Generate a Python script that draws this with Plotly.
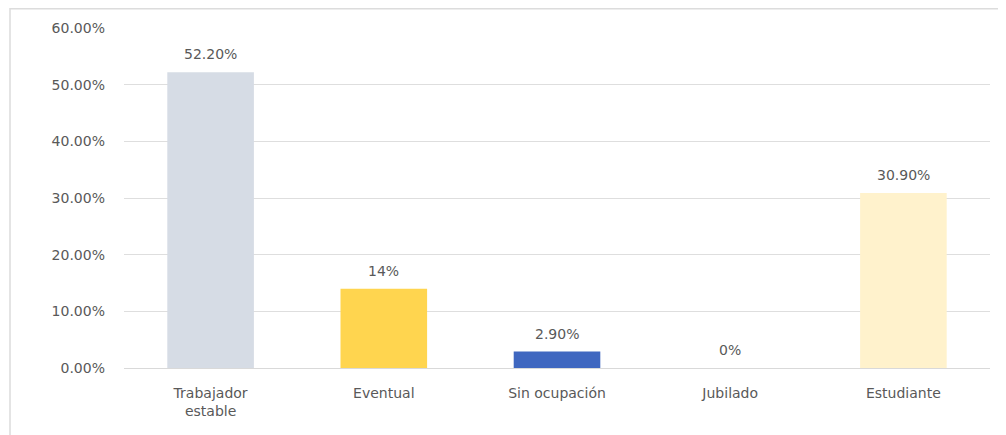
import plotly.graph_objects as go

categories = ["Trabajador<br>estable", "Eventual", "Sin ocupación", "Jubilado", "Estudiante"]
values = [0.522, 0.14, 0.029, 0.0, 0.309]
value_labels = ["52.20%", "14%", "2.90%", "0%", "30.90%"]
colors = ["#D6DCE5", "#FFD54F", "#3F67C0", "#DDDDDD", "#FFF2CC"]
y_ticks = [0, 0.1, 0.2, 0.3, 0.4, 0.5, 0.6]

FONT = "DejaVu Sans"
W, H = 998, 427
L, R, T, B = 116, 16, 20, 67
pw, ph = W - L - R, H - T - B

def px_x(x):
    return (x - L) / pw

def px_y(y):
    return (H - B - y) / ph

fig = go.Figure(go.Bar(
    x=categories, y=values,
    marker=dict(color=colors, line=dict(width=0)),
    cliponaxis=False,
))

for c, v, t in zip(categories, values, value_labels):
    fig.add_annotation(x=c, y=v, text=t, showarrow=False, yanchor="middle",
                       yshift=18, font=dict(color="#595959", size=14, family=FONT))

fig.update_layout(
    width=W, height=H,
    margin=dict(l=L, r=R, t=T, b=B),
    paper_bgcolor="white", plot_bgcolor="white",
    bargap=0.5, showlegend=False,
    font=dict(family=FONT, color="#595959", size=14),
    shapes=[dict(type="rect", xref="paper", yref="paper",
                 x0=px_x(2), x1=px_x(993), y0=px_y(440), y1=px_y(0.8),
                 line=dict(color="#DCDCDC", width=1.5), layer="below")],
)
fig.update_xaxes(showgrid=False, showline=True, linecolor="#D9D9D9", linewidth=1,
                 ticks="", ticklabelstandoff=12, tickfont=dict(size=14, color="#595959"))
fig.update_yaxes(range=[0, 0.6], tickvals=y_ticks, tickformat=".2%",
                 showgrid=True, gridcolor="#DEDEDE", gridwidth=1,
                 zeroline=False, showline=False, ticks="", ticklen=0,
                 ticklabelstandoff=18,
                 tickfont=dict(size=14, color="#595959"))

fig.write_html("out.html")
